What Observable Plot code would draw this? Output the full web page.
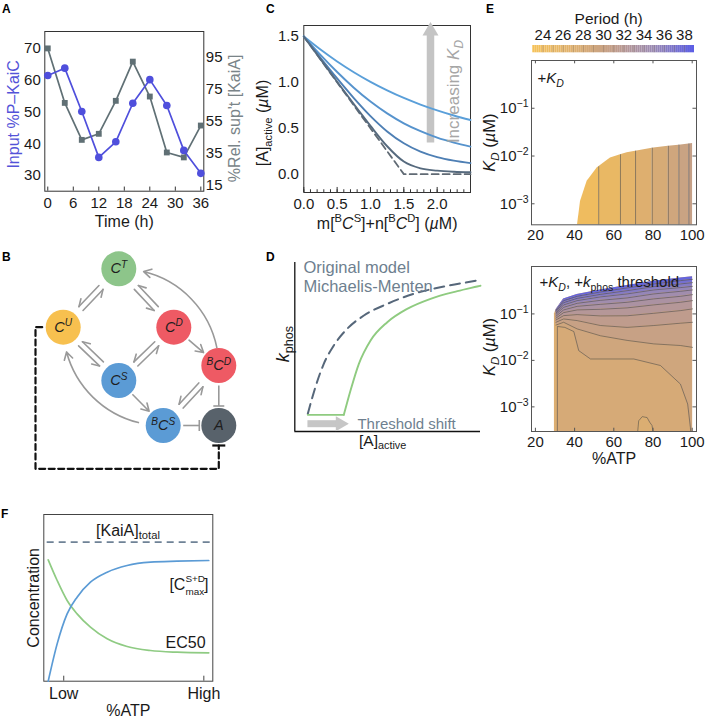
<!DOCTYPE html>
<html>
<head>
<meta charset="utf-8">
<script src="https://cdn.jsdelivr.net/npm/d3@7"></script>
<script src="https://cdn.jsdelivr.net/npm/@observablehq/plot@0.6"></script>
<style>
html,body{margin:0;padding:0;background:#fff;}
#root{position:relative;width:709px;height:723px;overflow:hidden;background:#fff;font-family:'Liberation Sans',Arial,Helvetica,sans-serif;}
.pl{position:absolute;font-weight:bold;font-size:12px;line-height:12px;color:#000;}
</style>
</head>
<body>
<div id="root"></div>
<script>
// ================= DATA =================
// Panel A
const A_time = [0, 4, 8, 12, 16, 20, 24, 28, 32, 36];
const A_pKaiC = [61.4, 63.7, 50.1, 35.7, 40.6, 52.7, 60.1, 52.0, 37.9, 30.7];
const A_relKaiA = [100.6, 66.4, 43.2, 47.0, 67.7, 92.3, 70.4, 35.3, 32.2, 52.2];
const A_timeTicks = [0, 6, 12, 18, 24, 30, 36];
const A_leftTicks = [30, 40, 50, 60, 70];
const A_rightTicks = [15, 35, 55, 75, 95];

// Panel B (diagram node layout, px units)
const B_nodes = ["C^{T}", "C^{U}", "C^{D}", "C^{S}", "^{B}C^{D}", "^{B}C^{S}", "A"];
const B_x = [118.3, 62.7, 173.3, 118.3, 218.3, 162.7, 218.3];
const B_y = [268.3, 326.7, 326.7, 380, 365, 425, 425];
const B_fill = ["#8dc58a", "#f7c04f", "#ee5a64", "#5b9bd5", "#ee5a64", "#5b9bd5", "#58626b"];
const B_reversible = [[1, 0], [0, 2], [1, 3], [3, 2], [5, 4]];
const B_arrows = [[2, 4], [3, 5]];
const B_curvedUp = [[4, 0]];
const B_curvedDown = [[5, 1]];
const B_inhib = [[4, 6], [5, 6]];

// Panel C
const C_x = [0, 0.25, 0.5, 0.75, 1, 1.25, 1.5, 1.75, 2, 2.25, 2.5];
const C_kd1 = [1.5, 1.358, 1.228, 1.111, 1.006, 0.913, 0.830, 0.758, 0.695, 0.639, 0.590];
const C_kd2 = [1.5, 1.300, 1.113, 0.942, 0.791, 0.662, 0.554, 0.468, 0.398, 0.344, 0.300];
const C_kd3 = [1.5, 1.268, 1.043, 0.829, 0.633, 0.466, 0.337, 0.246, 0.186, 0.147, 0.120];
const C_kd4 = [1.5, 1.253, 1.007, 0.763, 0.526, 0.304, 0.137, 0.063, 0.038, 0.026, 0.020];
const C_noKdX = [0, 1.5, 2.5];
const C_noKdY = [1.5, 0, 0];
const C_xTicks = [0, 0.5, 1, 1.5, 2];
const C_yTicks = [0, 0.5, 1, 1.5];
const C_colors = ["#5a9fd9", "#5693cd", "#4e7fb4", "#566a7e"];

// Panel D
const D_mmX = [0.070, 0.111, 0.156, 0.210, 0.282, 0.372, 0.498, 0.641, 0.803, 0.982, 1.0];
const D_mmY = [0.024, 0.196, 0.346, 0.465, 0.572, 0.658, 0.733, 0.798, 0.845, 0.884, 0.888];
const D_thrX = [0.070, 0.264, 0.300, 0.345, 0.408, 0.498, 0.605, 0.731, 0.875, 0.982, 1.0];
const D_thrY = [0.017, 0.017, 0.174, 0.346, 0.497, 0.615, 0.701, 0.766, 0.815, 0.845, 0.850];

// Panel E
const E_periodStops = [23, 27, 31, 35, 39];
const E_periodColors = ["#f6c258", "#dfb06e", "#c29e8a", "#9a89b4", "#5a5de6"];
const E_barTicks = [24, 26, 28, 30, 32, 34, 36, 38];
const E_xTicks = [20, 40, 60, 80, 100];
const E_yTicks = [-3, -2, -1];
const E1_boundX = [41.5, 43, 46.4, 51.5, 58.3, 66.8, 80.4, 100.2];
const E1_boundY = [-3.44, -2.95, -2.53, -2.25, -2.04, -1.93, -1.83, -1.74];
const E1_contourX = [52.3, 63.4, 71.1, 79.6, 87.8, 93.2, 98.3];
const E1_bandPeriod = [24.3, 25.2, 26.2, 27.2, 28.2, 29.2, 30.0, 30.6];
const E2_boundX = [29.7, 30.5, 34.4, 41.3, 53.2, 66.8, 80.4, 94, 100.2];
const E2_boundY = [-1.0, -0.91, -0.68, -0.585, -0.484, -0.39, -0.30, -0.226, -0.198];
const E2_fanX = [30.5, 34.4, 41.3, 53.2, 66.8, 80.4, 94, 100.2];
const E2_fan = [
  [-0.92, -0.714, -0.62, -0.527, -0.44, -0.355, -0.284, -0.256],
  [-0.95, -0.757, -0.665, -0.579, -0.50, -0.413, -0.355, -0.327],
  [-0.98, -0.806, -0.714, -0.634, -0.57, -0.484, -0.434, -0.407],
  [-1.01, -0.858, -0.772, -0.708, -0.656, -0.57, -0.514, -0.484],
  [-1.05, -0.914, -0.837, -0.794, -0.75, -0.677, -0.622, -0.585],
  [-1.09, -0.972, -0.914, -0.901, -0.87, -0.806, -0.75, -0.714],
  [-1.13, -1.037, -1.015, -1.043, -1.04, -0.987, -0.929, -0.892],
  [-1.18, -1.108, -1.144, -1.25, -1.29, -1.25, -1.2, -1.18],
  [-1.24, -1.18, -1.323, -1.47, -1.57, -1.645, -1.68, -1.72]
];
const E2_fanPeriod = [38.3, 37.3, 36.3, 35.3, 34.3, 33.3, 32.3, 31.3, 30.3];
const E2_bigX = [31.2, 31.2, 35, 39.6, 42.1, 48.1, 70.2, 83.8, 94, 97.7, 99.1, 99.2];
const E2_bigY = [-3.53, -1.27, -1.29, -1.38, -1.79, -1.97, -1.97, -2.11, -2.51, -2.94, -3.45, -3.53];
const E2_blobX = [72.2, 72.7, 74.5, 77.0, 78.3, 79.5, 80.0];
const E2_blobY = [-3.53, -3.30, -3.21, -3.23, -3.33, -3.40, -3.53];
const E2_periods = {strip: 27.4, outer: 29.2, inner: 28.3, blob: 27.5};

// Panel F
const F_x = [0.026, 0.079, 0.138, 0.197, 0.276, 0.375, 0.493, 0.631, 0.789, 0.976];
const F_cmax = [0.0, 0.224, 0.404, 0.504, 0.594, 0.654, 0.694, 0.714, 0.720, 0.724];
const F_ec50 = [0.728, 0.604, 0.484, 0.404, 0.324, 0.254, 0.208, 0.184, 0.174, 0.170];
const F_kaiA = 0.834;
const F_tickPos = [0.118, 0.947];
const F_tickLabels = ["Low", "High"];

const panelLabels = ["A", "B", "C", "D", "E", "F"];
const panelLabelPos = [[2, 2.5], [2, 251], [266, 2.5], [266, 251], [486, 2.5], [1, 507.5]];

// ================= HELPERS =================
const FONT = "'Liberation Sans', Arial, Helvetica, sans-serif";
const baseStyle = {fontFamily: FONT, fontSize: "14px", background: "transparent", overflow: "visible", color: "#1a1a1a"};
const root = document.getElementById("root");
const SVGNS = "http://www.w3.org/2000/svg";

function parseRich(s) {
  const segs = []; let italic = false; let buf = "";
  const flush = () => { if (buf) segs.push({text: buf, mode: "", italic}); buf = ""; };
  for (let i = 0; i < s.length; i++) {
    const c = s[i];
    if (c === "*") { flush(); italic = !italic; continue; }
    if ((c === "^" || c === "_") && s[i + 1] === "{") {
      flush();
      const j = s.indexOf("}", i + 2);
      let inner = s.slice(i + 2, j);
      let it = italic;
      if (inner.includes("*")) { it = true; inner = inner.replace(/\*/g, ""); }
      segs.push({text: inner, mode: c, italic: it});
      i = j; continue;
    }
    buf += c;
  }
  flush();
  return segs;
}
function richify(svg) {
  svg.querySelectorAll("text").forEach(el => {
    const s = el.textContent;
    if (!/[\^_]\{|\*/.test(s)) return;
    const fs = parseFloat(getComputedStyle(el).fontSize) || 14;
    let baseDy = 0;
    const dyAttr = el.getAttribute("dy");
    if (dyAttr) baseDy = dyAttr.endsWith("em") ? parseFloat(dyAttr) * fs : parseFloat(dyAttr);
    while (el.firstChild) el.removeChild(el.firstChild);
    const segs = parseRich(s);
    let cur = 0, prevSup = null, first = true;
    segs.forEach((seg, idx) => {
      const t = document.createElementNS(SVGNS, "tspan");
      t.textContent = seg.text;
      if (seg.italic) t.setAttribute("font-style", "italic");
      const stackedSup = seg.mode === "^" && segs[idx + 1] && segs[idx + 1].mode === "_";
      const stackedSub = seg.mode === "_" && prevSup;
      let target = 0;
      if (seg.mode === "^") { target = (stackedSup ? -0.47 : -0.38) * fs; t.setAttribute("font-size", ((stackedSup ? 0.62 : 0.7) * fs) + "px"); }
      if (seg.mode === "_") { target = (stackedSub ? 0.32 : 0.24) * fs; t.setAttribute("font-size", ((stackedSub ? 0.62 : 0.7) * fs) + "px"); }
      const dy = target - cur;
      if (dy !== 0) t.setAttribute("dy", (first ? dy + baseDy : dy));
      cur = target;
      el.appendChild(t);
      if (stackedSub) t.setAttribute("dx", -prevSup.getComputedTextLength());
      prevSup = seg.mode === "^" ? t : null;
      first = false;
    });
  });
}
function place(svg, left, top) {
  svg.style.position = "absolute";
  svg.style.left = left + "px";
  svg.style.top = top + "px";
  svg.style.maxWidth = "none";
  root.appendChild(svg);
  richify(svg);
}
function interp(xs, ys, x) {
  if (x <= xs[0]) return ys[0];
  for (let i = 1; i < xs.length; i++) {
    if (x <= xs[i]) { const t = (x - xs[i - 1]) / (xs[i] - xs[i - 1]); return ys[i - 1] + t * (ys[i] - ys[i - 1]); }
  }
  return ys[ys.length - 1];
}
const zip = (xs, ys) => xs.map((x, i) => ({x, y: ys[i]}));
const triUp = {draw(ctx) { ctx.moveTo(0, -6.7); ctx.lineTo(8, 6.6); ctx.lineTo(-8, 6.6); ctx.closePath(); }};
const triRight = {draw(ctx) { ctx.moveTo(6.5, 0); ctx.lineTo(-6.5, -7.5); ctx.lineTo(-6.5, 7.5); ctx.closePath(); }};

// panel labels
panelLabels.forEach((l, i) => {
  const d = document.createElement("div");
  d.className = "pl"; d.textContent = l;
  d.style.left = panelLabelPos[i][0] + "px"; d.style.top = panelLabelPos[i][1] + "px";
  root.appendChild(d);
});

// ================= PANEL A =================
{
  const toL = r => 19.6 + 0.5 * r;
  const fromL = l => (l - 19.6) / 0.5;
  const data = A_time.map((t, i) => ({t, p: A_pKaiC[i], r: toL(A_relKaiA[i])}));
  const yD = [25.1, 75.2];
  const blue = "#4f4fdc", gray = "#607075";
  const svg = Plot.plot({
    width: 240, height: 220, marginLeft: 44.3, marginRight: 36.7, marginTop: 11, marginBottom: 49.3,
    style: baseStyle,
    x: {domain: [-0.7, 36.7]}, y: {domain: yD},
    marks: [
      Plot.frame({stroke: "#333"}),
      Plot.ruleX(A_timeTicks, {y1: yD[0], y2: yD[0] + 1.3, stroke: "#333"}),
      Plot.axisX({ticks: A_timeTicks, tickSize: 0, tickPadding: 6, fontSize: 15, label: null}),
      Plot.axisY({ticks: A_leftTicks, tickSize: 0, tickPadding: 4, fontSize: 15, label: null}),
      Plot.axisY({ticks: A_rightTicks.map(toL), anchor: "right", tickFormat: d => String(Math.round(fromL(d))), tickSize: 0, tickPadding: 2, fontSize: 15, label: null}),
      Plot.line(data, {x: "t", y: "r", stroke: gray, strokeWidth: 1.7}),
      Plot.dot(data, {x: "t", y: "r", symbol: "square", fill: gray, r: 3.3}),
      Plot.line(data, {x: "t", y: "p", stroke: blue, strokeWidth: 1.7}),
      Plot.dot(data, {x: "t", y: "p", fill: blue, r: 3.8}),
      Plot.text(["Input %P–KaiC"], {frameAnchor: "left", textAnchor: "middle", rotate: -90, dx: -31, dy: 3, fill: "#5353d8", fontSize: 16}),
      Plot.text(["%Rel. sup't [KaiA]"], {frameAnchor: "right", textAnchor: "middle", rotate: -90, dx: 31.5, dy: 7, fill: "#7a8488", fontSize: 16}),
      Plot.text(["Time (h)"], {frameAnchor: "bottom", dy: 35.5, fontSize: 16})
    ]
  });
  place(svg, 0, 20);
}

// ================= PANEL B =================
{
  const nodes = B_nodes.map((label, i) => ({label, x: B_x[i], y: B_y[i], fill: B_fill[i]}));
  const HARP_LEN = 29, HARP_OFF = 2.8, BARB_L = 7, BARB_W = 4;
  const unit = (P, Q) => { const dx = Q.x - P.x, dy = Q.y - P.y, d = Math.hypot(dx, dy); return {ux: dx / d, uy: dy / d, d}; };
  const harp = [];
  B_reversible.forEach(([a, b]) => {
    const P = nodes[a], Q = nodes[b];
    const {ux, uy} = unit(P, Q); const nx = -uy, ny = ux;
    const mx = (P.x + Q.x) / 2, my = (P.y + Q.y) / 2, s = HARP_LEN / 2, o = HARP_OFF;
    const s1 = {x: mx - ux * s + nx * o, y: my - uy * s + ny * o}, e1 = {x: mx + ux * s + nx * o, y: my + uy * s + ny * o};
    harp.push({x1: s1.x, y1: s1.y, x2: e1.x, y2: e1.y});
    harp.push({x1: e1.x, y1: e1.y, x2: e1.x - ux * BARB_L + nx * BARB_W, y2: e1.y - uy * BARB_L + ny * BARB_W});
    const s2 = {x: mx + ux * s - nx * o, y: my + uy * s - ny * o}, e2 = {x: mx - ux * s - nx * o, y: my - uy * s - ny * o};
    harp.push({x1: s2.x, y1: s2.y, x2: e2.x, y2: e2.y});
    harp.push({x1: e2.x, y1: e2.y, x2: e2.x + ux * BARB_L - nx * BARB_W, y2: e2.y + uy * BARB_L - ny * BARB_W});
  });
  const inh = [];
  B_inhib.forEach(([a, b]) => {
    const P = nodes[a], Q = nodes[b];
    const {ux, uy} = unit(P, Q); const nx = -uy, ny = ux;
    const st = {x: P.x + ux * 20, y: P.y + uy * 20}, en = {x: Q.x - ux * 19.5, y: Q.y - uy * 19.5};
    inh.push({x1: st.x, y1: st.y, x2: en.x, y2: en.y});
    inh.push({x1: en.x + nx * 5.5, y1: en.y + ny * 5.5, x2: en.x - nx * 5.5, y2: en.y - ny * 5.5});
  });
  const An = nodes[6], Un = nodes[1];
  const fb = [
    {x: Un.x - 21, y: Un.y}, {x: Un.x - 27.7, y: Un.y}, {x: Un.x - 27.7, y: An.y + 43.3},
    {x: An.x, y: An.y + 43.3}, {x: An.x, y: An.y + 20}
  ];
  const fbBar = [{x1: An.x - 6.5, y1: An.y + 20, x2: An.x + 6.5, y2: An.y + 20}];
  const pairs = list => list.map(([a, b]) => ({a: nodes[a], b: nodes[b]}));
  const arrowOpts = {x1: d => d.a.x, y1: d => d.a.y, x2: d => d.b.x, y2: d => d.b.y, stroke: "#999", strokeWidth: 1.6, headLength: 8};
  const svg = Plot.plot({
    width: 240, height: 250, marginLeft: 0, marginRight: 0, marginTop: 0, marginBottom: 0,
    style: baseStyle,
    x: {domain: [0, 240], axis: null}, y: {domain: [235, 485], reverse: true, axis: null},
    marks: [
      Plot.link(harp, {x1: "x1", y1: "y1", x2: "x2", y2: "y2", stroke: "#999", strokeWidth: 1.6, strokeLinecap: "round"}),
      Plot.arrow(pairs(B_arrows), {...arrowOpts, insetStart: 20, insetEnd: 20}),
      Plot.arrow(pairs(B_curvedUp), {...arrowOpts, insetStart: 18, insetEnd: 25, bend: -45}),
      Plot.arrow(pairs(B_curvedDown), {...arrowOpts, insetStart: 25, insetEnd: 25, bend: 45}),
      Plot.link(inh, {x1: "x1", y1: "y1", x2: "x2", y2: "y2", stroke: "#999", strokeWidth: 1.6}),
      Plot.line(fb, {x: "x", y: "y", stroke: "#111", strokeWidth: 2.2, strokeDasharray: "6,3.5"}),
      Plot.link(fbBar, {x1: "x1", y1: "y1", x2: "x2", y2: "y2", stroke: "#111", strokeWidth: 2.2}),
      Plot.dot(nodes, {x: "x", y: "y", r: 17.5, fill: "fill", stroke: null}),
      Plot.text(nodes, {x: "x", y: "y", text: "label", fontSize: 14.5, fontStyle: "italic", fill: "#1e1e1e"})
    ]
  });
  place(svg, 0, 235);
}

// ================= PANEL C =================
{
  const curves = [C_kd1, C_kd2, C_kd3, C_kd4].flatMap((c, k) => C_x.map((x, i) => ({k, x, y: c[i]})));
  const yD = [-0.2, 1.62];
  const minor = d3.range(0, 2.5001, 0.1).map(v => +v.toFixed(2));
  const svg = Plot.plot({
    width: 240, height: 240, marginLeft: 63.3, marginRight: 10, marginTop: 25, marginBottom: 48,
    style: baseStyle,
    x: {domain: [0, 2.5]}, y: {domain: yD},
    color: {domain: [0, 1, 2, 3], range: C_colors},
    marks: [
      Plot.frame({stroke: "#333"}),
      Plot.ruleX(minor, {y1: yD[0], y2: yD[0] + 0.03, stroke: "#333"}),
      Plot.ruleX(C_xTicks, {y1: yD[0], y2: yD[0] + 0.055, stroke: "#333"}),
      Plot.axisX({ticks: C_xTicks, tickSize: 0, tickPadding: 6, fontSize: 15, tickFormat: d3.format(".1f"), label: null}),
      Plot.axisY({ticks: C_yTicks, tickSize: 0, tickPadding: 5, fontSize: 15, tickFormat: d3.format(".1f"), label: null}),
      Plot.link([{x: 1.9, y1: 0.346, y2: 1.52}], {x1: "x", x2: "x", y1: "y1", y2: "y2", stroke: "#c4c4c4", strokeWidth: 7.5}),
      Plot.dot([{x: 1.9, y: 1.584}], {x: "x", y: "y", symbol: triUp, fill: "#c4c4c4", r: 8}),
      Plot.line(zip(C_noKdX, C_noKdY), {x: "x", y: "y", stroke: "#606a74", strokeWidth: 1.8, strokeDasharray: "7,4"}),
      Plot.line(curves, {x: "x", y: "y", z: "k", stroke: "k", strokeWidth: 1.9, curve: "monotone-x"}),
      Plot.text(["Increasing *K*_{*D*}"], {x: 2.24, y: 0.9, rotate: -90, fill: "#a6a6a6", fontSize: 17}),
      Plot.text(["[A]_{active} (*µ*M)"], {frameAnchor: "left", textAnchor: "middle", rotate: -90, dx: -41, dy: 14, fontSize: 16}),
      Plot.text(["m[^{B}*C*^{S}]+n[^{B}*C*^{D}] (*µ*M)"], {frameAnchor: "bottom", dy: 36, fontSize: 16})
    ]
  });
  place(svg, 240, 0);
}

// ================= PANEL D =================
{
  const yD = [-0.0903, 1.0];
  const thr = zip(D_thrX, D_thrY);
  const txt = "#6e7f8f";
  const svg = Plot.plot({
    width: 240, height: 215, marginLeft: 54.3, marginRight: 0, marginTop: 17, marginBottom: 29,
    style: baseStyle,
    x: {domain: [0, 1], axis: null}, y: {domain: yD, axis: null},
    marks: [
      Plot.ruleX([0], {stroke: "#111", strokeWidth: 1.3}),
      Plot.ruleY([yD[0]], {stroke: "#111", strokeWidth: 1.3}),
      Plot.line(zip(D_mmX, D_mmY), {x: "x", y: "y", stroke: "#56677a", strokeWidth: 2, strokeDasharray: "10,6", curve: "monotone-x"}),
      Plot.line(thr.slice(0, 2), {x: "x", y: "y", stroke: "#8fcb80", strokeWidth: 1.9}),
      Plot.line(thr.slice(1), {x: "x", y: "y", stroke: "#8fcb80", strokeWidth: 1.9, curve: "monotone-x"}),
      Plot.link([{x1: 0.068, x2: 0.225, y: -0.04}], {x1: "x1", x2: "x2", y1: "y", y2: "y", stroke: "#c6c6c6", strokeWidth: 7}),
      Plot.dot([{x: 0.256, y: -0.04}], {x: "x", y: "y", symbol: triRight, fill: "#c6c6c6", r: 8}),
      Plot.text(["Threshold shift"], {x: 0.337, y: -0.04, textAnchor: "start", fill: txt, fontSize: 15}),
      Plot.text(["Original model"], {frameAnchor: "top-left", dx: 8.7, dy: -1, textAnchor: "start", fill: txt, fontSize: 16.5}),
      Plot.text(["Michaelis-Menten"], {frameAnchor: "top-left", dx: 8.7, dy: 18, textAnchor: "start", fill: txt, fontSize: 16.5}),
      Plot.text(["*k*_{phos}"], {frameAnchor: "left", textAnchor: "middle", rotate: -90, dx: -11.5, dy: -3, fontSize: 18}),
      Plot.text(["[A]_{active}"], {frameAnchor: "bottom", dx: -5, dy: 14, fontSize: 15.5})
    ]
  });
  place(svg, 240, 245);
}

// ================= PANEL E =================
const periodColor = {type: "linear", domain: E_periodStops, range: E_periodColors};
const powFmt = d => `10^{${d < 0 ? "−" : ""}${Math.abs(d)}}`;
const E_xDomain = [18, 102.2];
// color bar
{
  const cells = d3.range(23, 39, 0.2).map(a => ({a, b: a + 0.2, p: a + 0.1}));
  const svg = Plot.plot({
    width: 229, height: 56, marginLeft: 52.3, marginRight: 15, marginTop: 45, marginBottom: 3.7,
    style: baseStyle,
    x: {domain: [23, 39]}, y: {domain: [0, 1], axis: null},
    color: periodColor,
    marks: [
      Plot.rect(cells, {x1: "a", x2: "b", y1: 0, y2: 1, fill: "p", inset: 0}),
      Plot.ruleX(d3.range(24, 39), {stroke: "#7a6a5a", strokeOpacity: 0.45, strokeWidth: 0.8}),
      Plot.axisX({anchor: "top", ticks: E_barTicks, tickSize: 0, tickPadding: 6, fontSize: 15, label: null}),
      Plot.text(["Period (h)"], {frameAnchor: "top", dx: -5, dy: -33, fontSize: 15.5})
    ]
  });
  place(svg, 480, 0);
}
// upper contour
{
  const yMin = -3.44, yMax = 0.0;
  const edges = [E1_boundX[0], ...E1_contourX, E1_boundX[E1_boundX.length - 1]];
  const bands = [];
  E1_bandPeriod.forEach((p, i) => {
    const a = edges[i], b = edges[i + 1];
    const xs = [a, ...E1_boundX.filter(x => x > a && x < b), b];
    xs.forEach(x => bands.push({band: i, p, x, y: interp(E1_boundX, E1_boundY, x)}));
  });
  const svg = Plot.plot({
    width: 229, height: 200, marginLeft: 51, marginRight: 13, marginTop: 5, marginBottom: 30.7,
    style: baseStyle,
    x: {domain: E_xDomain}, y: {domain: [yMin, yMax]},
    color: periodColor,
    marks: [
      Plot.areaY(bands, {x: "x", y1: yMin, y2: "y", z: "band", fill: "p"}),
      Plot.ruleX(E1_contourX, {y1: yMin, y2: c => interp(E1_boundX, E1_boundY, c), stroke: "#4a4a4a", strokeWidth: 0.7, strokeOpacity: 0.8}),
      Plot.frame({stroke: "#555"}),
      Plot.ruleY(E_yTicks, {x1: E_xDomain[0], x2: E_xDomain[0] + 1.8, stroke: "#555"}),
      Plot.ruleY(E_yTicks, {x1: E_xDomain[1] - 1.8, x2: E_xDomain[1], stroke: "#555"}),
      Plot.ruleX(E_xTicks, {y1: yMax - 0.07, y2: yMax, stroke: "#555"}),
      Plot.axisX({ticks: E_xTicks, tickSize: 0, tickPadding: 5, fontSize: 15, label: null}),
      Plot.axisY({ticks: E_yTicks, tickSize: 0, tickPadding: 3, tickFormat: powFmt, fontSize: 15, label: null}),
      Plot.text(["*K*_{*D*} (*µ*M)"], {frameAnchor: "left", textAnchor: "middle", rotate: -90, dx: -42, fontSize: 16.5}),
      Plot.text(["+*K*_{*D*}"], {frameAnchor: "top-left", dx: 6, dy: 12, textAnchor: "start", fontSize: 15})
    ]
  });
  place(svg, 480, 55);
}
// lower contour
{
  const yMin = -3.53, yMax = 0.02;
  const lineRows = E2_fan.flatMap((L, k) => E2_fanX.map((x, i) => ({k, x, y: L[i]})));
  const bandRows = [];
  E2_fanPeriod.forEach((p, k) => {
    E2_fanX.forEach((x, i) => {
      const upper = k === 0 ? interp(E2_boundX, E2_boundY, x) : E2_fan[k - 1][i];
      bandRows.push({band: k, p, x, y1: E2_fan[k][i], y2: upper});
    });
  });
  const L9 = E2_fan[E2_fan.length - 1];
  const outerXs = [E2_bigX[0], ...E2_fanX.filter(x => x > E2_bigX[0])];
  const outer = outerXs.map(x => ({x, y: interp(E2_fanX, L9, x), p: E2_periods.outer}));
  const region = zip(E2_boundX, E2_boundY).map(d => ({...d, p: E2_periods.strip}));
  const inner = zip(E2_bigX, E2_bigY).map(d => ({...d, p: E2_periods.inner}));
  const blob = zip(E2_blobX, E2_blobY).map(d => ({...d, p: E2_periods.blob}));
  const cl = {stroke: "#4a4a4a", strokeWidth: 0.7, strokeOpacity: 0.8};
  const svg = Plot.plot({
    width: 229, height: 220, marginLeft: 51, marginRight: 13, marginTop: 11, marginBottom: 44,
    style: baseStyle,
    x: {domain: E_xDomain}, y: {domain: [yMin, yMax]},
    color: periodColor,
    marks: [
      Plot.areaY(region, {x: "x", y1: yMin, y2: "y", fill: "p"}),
      Plot.areaY(outer, {x: "x", y1: yMin, y2: "y", fill: "p"}),
      Plot.areaY(inner, {x: "x", y1: yMin, y2: "y", fill: "p"}),
      Plot.areaY(blob, {x: "x", y1: yMin, y2: "y", fill: "p"}),
      Plot.areaY(bandRows, {x: "x", y1: "y1", y2: "y2", z: "band", fill: "p"}),
      Plot.line(lineRows, {x: "x", y: "y", z: "k", ...cl}),
      Plot.line(inner, {x: "x", y: "y", ...cl}),
      Plot.line(blob, {x: "x", y: "y", ...cl}),
      Plot.frame({stroke: "#555"}),
      Plot.ruleY(E_yTicks, {x1: E_xDomain[0], x2: E_xDomain[0] + 1.8, stroke: "#555"}),
      Plot.ruleY(E_yTicks, {x1: E_xDomain[1] - 1.8, x2: E_xDomain[1], stroke: "#555"}),
      Plot.ruleX(E_xTicks, {y1: yMin, y2: yMin + 0.07, stroke: "#555"}),
      Plot.axisX({ticks: E_xTicks, tickSize: 0, tickPadding: 5, fontSize: 15, label: null}),
      Plot.axisY({ticks: E_yTicks, tickSize: 0, tickPadding: 3, tickFormat: powFmt, fontSize: 15, label: null}),
      Plot.text(["*K*_{*D*} (*µ*M)"], {frameAnchor: "left", textAnchor: "middle", rotate: -90, dx: -42, dy: -2, fontSize: 16.5}),
      Plot.text(["+*K*_{*D*}, +*k*_{phos} threshold"], {frameAnchor: "top-left", dx: 8, dy: 10, textAnchor: "start", fontSize: 15}),
      Plot.text(["%ATP"], {frameAnchor: "bottom", dy: 32, fontSize: 16})
    ]
  });
  place(svg, 480, 255);
}

// ================= PANEL F =================
{
  const svg = Plot.plot({
    width: 240, height: 223, marginLeft: 43.3, marginRight: 27.7, marginTop: 14, marginBottom: 42.3,
    style: baseStyle,
    x: {domain: [0, 1]}, y: {domain: [0, 1], axis: null},
    marks: [
      Plot.frame({stroke: "#444"}),
      Plot.ruleX(F_tickPos, {y1: 0, y2: 0.03, stroke: "#444"}),
      Plot.axisX({ticks: F_tickPos, tickFormat: d => F_tickLabels[F_tickPos.indexOf(d)], tickSize: 0, tickPadding: 6, fontSize: 16, label: null}),
      Plot.ruleY([F_kaiA], {x1: 0.02, x2: 0.988, stroke: "#6f8296", strokeWidth: 1.7, strokeDasharray: "7,5"}),
      Plot.line(zip(F_x, F_ec50), {x: "x", y: "y", stroke: "#8fcb83", strokeWidth: 1.7, curve: "monotone-x"}),
      Plot.line(zip(F_x, F_cmax), {x: "x", y: "y", stroke: "#5b9bd5", strokeWidth: 1.7, curve: "monotone-x"}),
      Plot.text(["[KaiA]_{total}"], {x: 0.498, y: 0.904, fontSize: 16}),
      Plot.text(["[C^{S+D}_{max}]"], {x: 0.975, y: 0.58, textAnchor: "end", fontSize: 16}),
      Plot.text(["EC50"], {x: 0.957, y: 0.232, textAnchor: "end", fontSize: 16}),
      Plot.text(["Concentration"], {frameAnchor: "left", textAnchor: "middle", rotate: -90, dx: -10, fontSize: 16}),
      Plot.text(["%ATP"], {frameAnchor: "bottom", dy: 34.3, fontSize: 16})
    ]
  });
  place(svg, 0, 500);
}
</script>
</body>
</html>
